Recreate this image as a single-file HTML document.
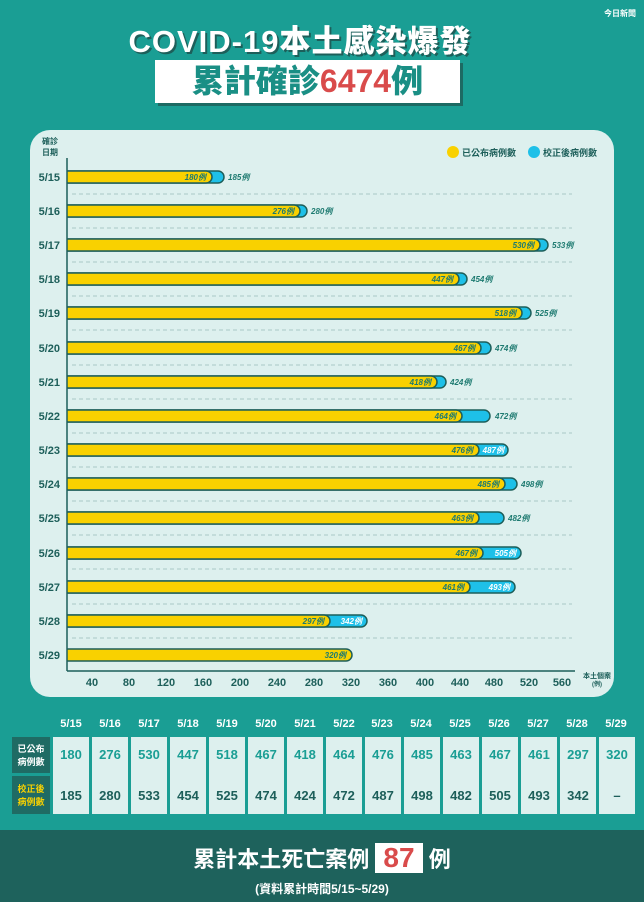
<!DOCTYPE html><html><head><meta charset="utf-8"><style>
body{margin:0;width:644px;height:902px;background:#1a9e94;font-family:"Liberation Sans","Noto Sans CJK TC",sans-serif;position:relative;overflow:hidden}
.t{position:absolute;left:0;width:600px;text-align:center;top:16px;font-size:31px;font-weight:900;color:#fff;text-shadow:2px 2px 0 #1d5f5a;letter-spacing:1px}
.box{position:absolute;left:155px;top:60px;width:305px;height:43px;background:#fff;box-shadow:3px 3px 0 #1d6a63;text-align:center;font-size:32px;font-weight:900;line-height:43px;color:#1a8f85}
.box b{color:#d94b4b}
.panel{position:absolute;left:30px;top:130px;width:584px;height:567px;background:#ddf0ee;border-radius:20px}
.bot{position:absolute;left:0;top:830px;width:644px;height:72px;background:#1e625c;color:#fff;text-align:center}
</style></head><body>
<div class="t">COVID-19本土感染爆發</div>
<div class="box">累計確診<b>6474</b>例</div>
<div style="position:absolute;right:8px;top:8px;color:#fff;font-size:8px;font-weight:bold">今日新聞</div>
<div class="panel"></div>
<svg width="644" height="902" style="position:absolute;left:0;top:0" font-family="Liberation Sans,Noto Sans CJK TC,sans-serif">
<g fill="#1d5f5a" font-size="8" font-weight="bold"><text x="50" y="144" text-anchor="middle">確診</text><text x="50" y="155" text-anchor="middle">日期</text></g>
<circle cx="453" cy="152" r="6" fill="#f9d100"/><text x="462" y="156" font-size="9" font-weight="bold" fill="#1d5f5a">已公布病例數</text>
<circle cx="534" cy="152" r="6" fill="#1ec0e8"/><text x="543" y="156" font-size="9" font-weight="bold" fill="#1d5f5a">校正後病例數</text>
<g stroke="#a9c9c6" stroke-dasharray="4 3" stroke-width="1">
<line x1="72" x2="572" y1="194" y2="194"/><line x1="72" x2="572" y1="228" y2="228"/><line x1="72" x2="572" y1="262" y2="262"/><line x1="72" x2="572" y1="296" y2="296"/><line x1="72" x2="572" y1="330" y2="330"/><line x1="72" x2="572" y1="365" y2="365"/><line x1="72" x2="572" y1="399" y2="399"/><line x1="72" x2="572" y1="433" y2="433"/><line x1="72" x2="572" y1="467" y2="467"/><line x1="72" x2="572" y1="501" y2="501"/><line x1="72" x2="572" y1="535" y2="535"/><line x1="72" x2="572" y1="569" y2="569"/><line x1="72" x2="572" y1="604" y2="604"/><line x1="72" x2="572" y1="638" y2="638"/>
</g>
<g stroke="#1d5f5a" stroke-width="1.5">
<rect x="62" y="171" width="162" height="12" rx="6" fill="#1ec0e8"/><rect x="62" y="171" width="150" height="12" rx="6" fill="#f9d100"/>
<rect x="62" y="205" width="245" height="12" rx="6" fill="#1ec0e8"/><rect x="62" y="205" width="238" height="12" rx="6" fill="#f9d100"/>
<rect x="62" y="239" width="486" height="12" rx="6" fill="#1ec0e8"/><rect x="62" y="239" width="478" height="12" rx="6" fill="#f9d100"/>
<rect x="62" y="273" width="405" height="12" rx="6" fill="#1ec0e8"/><rect x="62" y="273" width="397" height="12" rx="6" fill="#f9d100"/>
<rect x="62" y="307" width="469" height="12" rx="6" fill="#1ec0e8"/><rect x="62" y="307" width="460" height="12" rx="6" fill="#f9d100"/>
<rect x="62" y="342" width="429" height="12" rx="6" fill="#1ec0e8"/><rect x="62" y="342" width="419" height="12" rx="6" fill="#f9d100"/>
<rect x="62" y="376" width="384" height="12" rx="6" fill="#1ec0e8"/><rect x="62" y="376" width="375" height="12" rx="6" fill="#f9d100"/>
<rect x="62" y="410" width="428" height="12" rx="6" fill="#1ec0e8"/><rect x="62" y="410" width="400" height="12" rx="6" fill="#f9d100"/>
<rect x="62" y="444" width="446" height="12" rx="6" fill="#1ec0e8"/><rect x="62" y="444" width="417" height="12" rx="6" fill="#f9d100"/>
<rect x="62" y="478" width="455" height="12" rx="6" fill="#1ec0e8"/><rect x="62" y="478" width="443" height="12" rx="6" fill="#f9d100"/>
<rect x="62" y="512" width="442" height="12" rx="6" fill="#1ec0e8"/><rect x="62" y="512" width="417" height="12" rx="6" fill="#f9d100"/>
<rect x="62" y="547" width="459" height="12" rx="6" fill="#1ec0e8"/><rect x="62" y="547" width="421" height="12" rx="6" fill="#f9d100"/>
<rect x="62" y="581" width="453" height="12" rx="6" fill="#1ec0e8"/><rect x="62" y="581" width="408" height="12" rx="6" fill="#f9d100"/>
<rect x="62" y="615" width="305" height="12" rx="6" fill="#1ec0e8"/><rect x="62" y="615" width="268" height="12" rx="6" fill="#f9d100"/>
<rect x="62" y="649" width="290" height="12" rx="6" fill="#f9d100"/>
</g>
<rect x="61" y="165" width="6" height="500" fill="#ddf0ee"/>
<line x1="67" y1="158" x2="67" y2="671" stroke="#1d5f5a" stroke-width="1.5"/>
<line x1="67" y1="671" x2="575" y2="671" stroke="#1d5f5a" stroke-width="1.5"/>
<g font-size="8" font-weight="bold" font-style="italic" fill="#1d7a70" text-anchor="end">
<text x="206" y="180">180例</text><text x="294" y="214">276例</text><text x="534" y="248">530例</text><text x="453" y="282">447例</text><text x="516" y="316">518例</text><text x="475" y="351">467例</text><text x="431" y="385">418例</text><text x="456" y="419">464例</text><text x="473" y="453">476例</text><text x="499" y="487">485例</text><text x="473" y="521">463例</text><text x="477" y="556">467例</text><text x="464" y="590">461例</text><text x="324" y="624">297例</text><text x="346" y="658">320例</text>
</g>
<g font-size="8" font-weight="bold" font-style="italic" fill="#1d7a70">
<text x="228" y="180">185例</text><text x="311" y="214">280例</text><text x="552" y="248">533例</text><text x="471" y="282">454例</text><text x="535" y="316">525例</text><text x="495" y="351">474例</text><text x="450" y="385">424例</text><text x="495" y="419">472例</text><text x="521" y="487">498例</text><text x="508" y="521">482例</text>
</g>
<g font-size="8" font-weight="bold" font-style="italic" fill="#fff" text-anchor="end">
<text x="504" y="453">487例</text><text x="516" y="556">505例</text><text x="510" y="590">493例</text><text x="362" y="624">342例</text>
</g>
<g font-size="11" font-weight="bold" fill="#1d5f5a" text-anchor="end">
<text x="60" y="181">5/15</text><text x="60" y="215">5/16</text><text x="60" y="249">5/17</text><text x="60" y="283">5/18</text><text x="60" y="317">5/19</text><text x="60" y="352">5/20</text><text x="60" y="386">5/21</text><text x="60" y="420">5/22</text><text x="60" y="454">5/23</text><text x="60" y="488">5/24</text><text x="60" y="522">5/25</text><text x="60" y="557">5/26</text><text x="60" y="591">5/27</text><text x="60" y="625">5/28</text><text x="60" y="659">5/29</text>
</g>
<g font-size="11" font-weight="bold" fill="#1d5f5a" text-anchor="middle">
<text x="92" y="686">40</text><text x="129" y="686">80</text><text x="166" y="686">120</text><text x="203" y="686">160</text><text x="240" y="686">200</text><text x="277" y="686">240</text><text x="314" y="686">280</text><text x="351" y="686">320</text><text x="388" y="686">360</text><text x="425" y="686">400</text><text x="460" y="686">440</text><text x="494" y="686">480</text><text x="529" y="686">520</text><text x="562" y="686">560</text>
<text x="597" y="678" font-size="7">本土個案</text><text x="597" y="686" font-size="6">(例)</text>
</g>
<g font-size="11" font-weight="bold" fill="#fff" text-anchor="middle">
<text x="71" y="727">5/15</text><text x="110" y="727">5/16</text><text x="149" y="727">5/17</text><text x="188" y="727">5/18</text><text x="227" y="727">5/19</text><text x="266" y="727">5/20</text><text x="305" y="727">5/21</text><text x="344" y="727">5/22</text><text x="382" y="727">5/23</text><text x="421" y="727">5/24</text><text x="460" y="727">5/25</text><text x="499" y="727">5/26</text><text x="538" y="727">5/27</text><text x="577" y="727">5/28</text><text x="616" y="727">5/29</text>
</g>
<rect x="12" y="737" width="38" height="36" fill="#1f6b64"/><rect x="12" y="776" width="38" height="38" fill="#1f6b64"/>
<g font-size="9" font-weight="bold" text-anchor="middle">
<text x="31" y="752" fill="#fff">已公布</text><text x="31" y="765" fill="#fff">病例數</text>
<text x="31" y="792" fill="#f9d100">校正後</text><text x="31" y="805" fill="#f9d100">病例數</text>
</g>
<g fill="#ddf0ee">
<rect x="53" y="737" width="36" height="77"/><rect x="92" y="737" width="36" height="77"/><rect x="131" y="737" width="36" height="77"/><rect x="170" y="737" width="36" height="77"/><rect x="209" y="737" width="36" height="77"/><rect x="248" y="737" width="36" height="77"/><rect x="287" y="737" width="36" height="77"/><rect x="326" y="737" width="36" height="77"/><rect x="365" y="737" width="36" height="77"/><rect x="404" y="737" width="36" height="77"/><rect x="443" y="737" width="36" height="77"/><rect x="482" y="737" width="36" height="77"/><rect x="521" y="737" width="36" height="77"/><rect x="560" y="737" width="36" height="77"/><rect x="599" y="737" width="36" height="77"/>
</g>
<g font-size="13" font-weight="bold" fill="#1a9e94" text-anchor="middle">
<text x="71" y="759">180</text><text x="110" y="759">276</text><text x="149" y="759">530</text><text x="188" y="759">447</text><text x="227" y="759">518</text><text x="266" y="759">467</text><text x="305" y="759">418</text><text x="344" y="759">464</text><text x="383" y="759">476</text><text x="422" y="759">485</text><text x="461" y="759">463</text><text x="500" y="759">467</text><text x="539" y="759">461</text><text x="578" y="759">297</text><text x="617" y="759">320</text>
</g>
<g font-size="13" font-weight="bold" fill="#1d5f5a" text-anchor="middle">
<text x="71" y="800">185</text><text x="110" y="800">280</text><text x="149" y="800">533</text><text x="188" y="800">454</text><text x="227" y="800">525</text><text x="266" y="800">474</text><text x="305" y="800">424</text><text x="344" y="800">472</text><text x="383" y="800">487</text><text x="422" y="800">498</text><text x="461" y="800">482</text><text x="500" y="800">505</text><text x="539" y="800">493</text><text x="578" y="800">342</text><text x="617" y="800">–</text>
</g>
</svg>
<div class="bot">
<div style="position:absolute;left:0;width:644px;top:13px;font-size:22px;font-weight:bold;line-height:30px">累計本土死亡案例 <span style="display:inline-block;background:#fff;color:#d94b4b;padding:0 8px;font-size:28px;line-height:30px">87</span> 例</div>
<div style="position:absolute;left:0;width:644px;top:50px;font-size:12px;font-weight:bold">(資料累計時間5/15~5/29)</div>
</div>
</body></html>
